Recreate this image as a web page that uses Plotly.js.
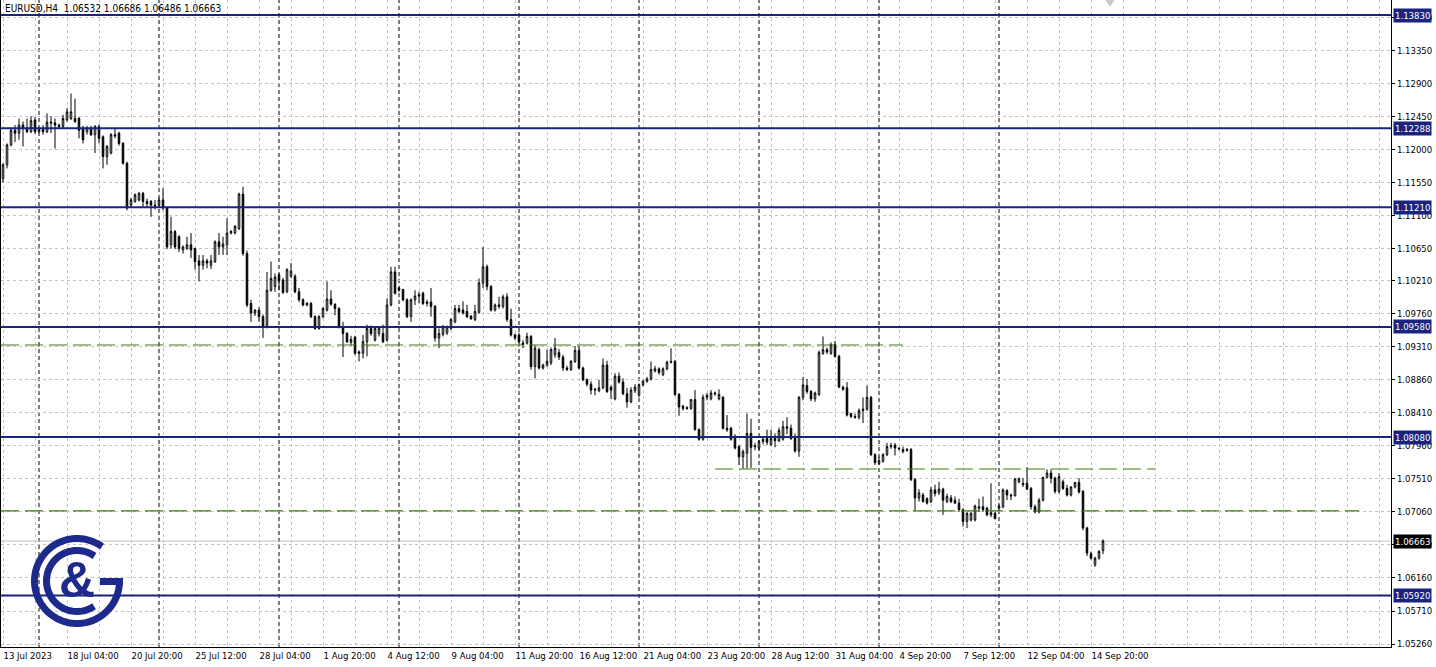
<!DOCTYPE html>
<html><head><meta charset="utf-8">
<script src="https://cdn.plot.ly/plotly-3.0.1.min.js"></script>
<style>html,body{margin:0;padding:0;background:#fff;}#chart{width:1436px;height:667px;}</style>
</head><body><div id="chart"></div>
<script>
const symbol = "EURUSD,H4";

const openPrices = [
1.1160,1.1179,1.1206,1.1226,1.1222,1.1233,1.1229,1.1224,1.1240,1.1224,
1.1227,1.1224,1.1237,1.1236,1.1233,1.1231,1.1240,1.1242,1.1242,1.1242,
1.1229,1.1224,1.1229,1.1220,1.1231,1.1217,1.1190,1.1195,1.1220,1.1222,
1.1208,1.1181,1.1124,1.1129,1.1131,1.1140,1.1129,1.1129,1.1124,1.1124,
1.1131,1.1120,1.1070,1.1088,1.1081,1.1063,1.1065,1.1070,1.1065,1.1048,
1.1042,1.1048,1.1042,1.1047,1.1074,1.1067,1.1070,1.1086,1.1086,1.1092,
1.1139,1.1058,1.0990,1.0977,1.0981,1.0972,1.0958,1.1008,1.1013,1.1029,
1.1022,1.1006,1.1027,1.1027,1.1006,1.0995,1.0988,1.0990,1.0972,1.0956,
1.0972,1.0981,1.0996,1.0989,1.0983,1.0958,1.0949,1.0937,1.0944,1.0924,
1.0922,1.0938,1.0956,1.0940,1.0949,1.0949,1.0940,1.0988,1.1033,1.1011,
1.1009,1.0995,1.0972,1.0995,1.1000,1.1004,1.0990,1.0992,1.0986,1.0943,
1.0948,1.0950,1.0956,1.0965,1.0983,1.0981,1.0979,1.0973,1.0968,1.0978,
1.1018,1.1040,1.1013,1.0981,1.0986,1.0986,1.0999,1.0968,1.0947,1.0947,
1.0936,1.0936,1.0945,1.0904,1.0927,1.0902,1.0906,1.0909,1.0920,1.0923,
1.0917,1.0902,1.0900,1.0911,1.0926,1.0902,1.0886,1.0880,1.0872,1.0871,
1.0875,1.0906,1.0876,1.0860,1.0891,1.0883,1.0867,1.0856,1.0871,1.0865,
1.0879,1.0884,1.0887,1.0898,1.0901,1.0893,1.0901,1.0910,1.0911,1.0866,
1.0850,1.0848,1.0847,1.0859,1.0818,1.0805,1.0862,1.0860,1.0868,1.0860,
1.0862,1.0820,1.0820,1.0808,1.0795,1.0781,1.0786,1.0813,1.0796,1.0793,
1.0802,1.0806,1.0798,1.0806,1.0803,1.0805,1.0822,1.0820,1.0806,1.0789,
1.0862,1.0878,1.0870,1.0860,1.0866,1.0922,1.0927,1.0922,1.0934,1.0918,
1.0876,1.0875,1.0840,1.0836,1.0835,1.0844,1.0846,1.0862,1.0784,1.0772,
1.0775,1.0784,1.0795,1.0797,1.0793,1.0788,1.0791,1.0791,1.0750,1.0725,
1.0729,1.0724,1.0720,1.0736,1.0732,1.0737,1.0720,1.0725,1.0722,1.0718,
1.0709,1.0693,1.0695,1.0695,1.0711,1.0713,1.0711,1.0702,1.0704,1.0711,
1.0713,1.0735,1.0729,1.0728,1.0747,1.0743,1.0745,1.0738,1.0713,1.0706,
1.0722,1.0753,1.0759,1.0752,1.0734,1.0747,1.0738,1.0729,1.0740,1.0746,
1.0734,1.0684,1.0649,1.0634,1.0643,1.06532];

const highPrices = [
1.1181,1.1208,1.1229,1.1233,1.1242,1.1238,1.1242,1.1245,1.1244,1.1230,
1.1233,1.1249,1.1245,1.1242,1.1235,1.1247,1.1256,1.1276,1.1269,1.1244,
1.1232,1.1232,1.1232,1.1233,1.1234,1.1219,1.1206,1.1222,1.1229,1.1224,
1.1210,1.1183,1.1134,1.1140,1.1142,1.1142,1.1133,1.1131,1.1131,1.1134,
1.1147,1.1122,1.1108,1.1090,1.1083,1.1069,1.1081,1.1086,1.1066,1.1056,
1.1056,1.1051,1.1056,1.1076,1.1086,1.1081,1.1106,1.1090,1.1097,1.1141,
1.1149,1.1062,1.0995,1.0982,1.0985,1.0975,1.1033,1.1047,1.1031,1.1031,
1.1025,1.1038,1.1045,1.1030,1.1011,1.0997,1.0992,1.0992,1.0974,1.0974,
1.0985,1.1020,1.1008,1.0990,1.0985,1.0965,1.0951,1.0946,1.0946,1.0926,
1.0947,1.0961,1.0960,1.0958,1.0958,1.0961,1.0997,1.1040,1.1040,1.1013,
1.1010,1.0997,1.0997,1.1008,1.1006,1.1006,1.0995,1.1011,1.0988,1.0956,
1.0961,1.0960,1.0970,1.0988,1.0988,1.0993,1.0988,1.0974,1.0988,1.1024,
1.1067,1.1043,1.1015,1.0990,1.0999,1.1002,1.1004,1.0983,1.0949,1.0950,
1.0940,1.0950,1.0947,1.0933,1.0930,1.0908,1.0927,1.0930,1.0943,1.0928,
1.0920,1.0905,1.0913,1.0932,1.0932,1.0904,1.0888,1.0884,1.0875,1.0886,
1.0915,1.0912,1.0878,1.0895,1.0896,1.0888,1.0875,1.0876,1.0880,1.0881,
1.0886,1.0890,1.0911,1.0905,1.0903,1.0903,1.0912,1.0929,1.0913,1.0868,
1.0852,1.0850,1.0860,1.0872,1.0820,1.0866,1.0868,1.0872,1.0870,1.0873,
1.0864,1.0838,1.0822,1.0812,1.0797,1.0791,1.0840,1.0833,1.0800,1.0804,
1.0807,1.0818,1.0818,1.0813,1.0821,1.0830,1.0835,1.0825,1.0813,1.0864,
1.0890,1.0887,1.0872,1.0870,1.0926,1.0945,1.0930,1.0937,1.0939,1.0920,
1.0878,1.0883,1.0841,1.0840,1.0847,1.0862,1.0878,1.0864,1.0786,1.0781,
1.0786,1.0800,1.0800,1.0800,1.0794,1.0795,1.0793,1.0793,1.0752,1.0737,
1.0732,1.0726,1.0740,1.0743,1.0747,1.0739,1.0731,1.0729,1.0727,1.0724,
1.0711,1.0706,1.0706,1.0716,1.0724,1.0727,1.0713,1.0745,1.0706,1.0716,
1.0738,1.0737,1.0731,1.0752,1.0753,1.0752,1.0767,1.0740,1.0716,1.0725,
1.0754,1.0764,1.0764,1.0754,1.0759,1.0750,1.0743,1.0741,1.0747,1.0752,
1.0736,1.0686,1.0652,1.0645,1.0654,1.06686];

const lowPrices = [
1.1155,1.1174,1.1204,1.1210,1.1213,1.1204,1.1222,1.1222,1.1221,1.1222,
1.1220,1.1222,1.1222,1.1201,1.1229,1.1229,1.1238,1.1240,1.1236,1.1215,
1.1208,1.1220,1.1218,1.1195,1.1208,1.1174,1.1179,1.1193,1.1215,1.1205,
1.1179,1.1117,1.1121,1.1127,1.1129,1.1122,1.1120,1.1108,1.1118,1.1120,
1.1117,1.1064,1.1065,1.1064,1.1060,1.1058,1.1063,1.1052,1.1036,1.1020,
1.1036,1.1038,1.1037,1.1045,1.1056,1.1056,1.1056,1.1084,1.1084,1.1090,
1.1055,1.0985,1.0965,1.0973,1.0965,1.0943,1.0956,1.1006,1.1006,1.1008,
1.1003,1.1004,1.1025,1.1004,1.0992,1.0986,1.0986,1.0970,1.0954,1.0954,
1.0970,1.0979,1.0987,1.0974,1.0956,1.0917,1.0936,1.0933,1.0920,1.0911,
1.0915,1.0918,1.0946,1.0938,1.0945,1.0936,1.0938,1.0986,1.1002,1.1006,
1.0993,1.0970,1.0965,1.0988,1.0990,1.0988,1.0986,1.0972,1.0938,1.0929,
1.0945,1.0947,1.0954,1.0963,1.0977,1.0975,1.0970,1.0968,1.0966,1.0976,
1.1011,1.1008,1.0979,1.0979,1.0983,1.0983,1.0965,1.0945,1.0940,1.0936,
1.0929,1.0934,1.0900,1.0888,1.0900,1.0900,1.0904,1.0906,1.0916,1.0913,
1.0898,1.0898,1.0898,1.0909,1.0900,1.0884,1.0877,1.0866,1.0865,1.0869,
1.0873,1.0868,1.0860,1.0858,1.0881,1.0865,1.0848,1.0854,1.0868,1.0862,
1.0877,1.0882,1.0885,1.0896,1.0893,1.0891,1.0899,1.0908,1.0864,1.0837,
1.0844,1.0845,1.0845,1.0817,1.0803,1.0803,1.0858,1.0858,1.0864,1.0858,
1.0818,1.0815,1.0803,1.0791,1.0770,1.0765,1.0765,1.0766,1.0790,1.0790,
1.0798,1.0797,1.0796,1.0794,1.0801,1.0803,1.0812,1.0804,1.0787,1.0781,
1.0858,1.0867,1.0857,1.0856,1.0864,1.0920,1.0921,1.0920,1.0916,1.0875,
1.0871,1.0836,1.0834,1.0833,1.0832,1.0827,1.0844,1.0782,1.0770,1.0770,
1.0773,1.0782,1.0792,1.0783,1.0790,1.0786,1.0788,1.0748,1.0708,1.0720,
1.0719,1.0716,1.0718,1.0727,1.0729,1.0702,1.0718,1.0718,1.0717,1.0706,
1.0686,1.0684,1.0693,1.0693,1.0706,1.0706,1.0700,1.0699,1.0696,1.0708,
1.0711,1.0722,1.0722,1.0727,1.0745,1.0740,1.0736,1.0709,1.0704,1.0704,
1.0720,1.0752,1.0745,1.0731,1.0731,1.0736,1.0727,1.0727,1.0738,1.0731,
1.0681,1.0646,1.0641,1.0631,1.0641,1.06486];

const closePrices = [
1.1179,1.1206,1.1226,1.1222,1.1233,1.1229,1.1224,1.1239,1.1224,1.1227,
1.1224,1.1237,1.1236,1.1233,1.1231,1.1242,1.1251,1.1251,1.1238,1.1226,
1.1213,1.1229,1.1220,1.1231,1.1215,1.1190,1.1204,1.1220,1.1218,1.1208,
1.1181,1.1120,1.1131,1.1138,1.1140,1.1129,1.1126,1.1124,1.1123,1.1131,
1.1120,1.1067,1.1088,1.1067,1.1065,1.1067,1.1070,1.1063,1.1047,1.1042,
1.1048,1.1045,1.1048,1.1074,1.1067,1.1071,1.1086,1.1088,1.1095,1.1139,
1.1058,1.0988,1.0977,1.0981,1.0972,1.0958,1.1008,1.1024,1.1026,1.1021,
1.1005,1.1036,1.1034,1.1006,1.0995,1.0988,1.0990,1.0972,1.0956,1.0972,
1.0983,1.0996,1.0989,1.0983,1.0958,1.0949,1.0938,1.0941,1.0922,1.0922,
1.0938,1.0956,1.0949,1.0956,1.0956,1.0938,1.0988,1.1033,1.1004,1.1008,
1.0995,1.0972,1.0995,1.1000,1.1002,1.0990,1.0992,1.0986,1.0943,1.0949,
1.0958,1.0958,1.0968,1.0983,1.0979,1.0977,1.0972,1.0969,1.0979,1.1018,
1.1040,1.1013,1.0981,1.0988,1.0988,1.0999,1.0968,1.0947,1.0943,1.0938,
1.0934,1.0945,1.0904,1.0929,1.0902,1.0906,1.0911,1.0927,1.0929,1.0917,
1.0902,1.0900,1.0911,1.0926,1.0902,1.0886,1.0880,1.0872,1.0873,1.0875,
1.0906,1.0870,1.0872,1.0891,1.0883,1.0867,1.0856,1.0872,1.0876,1.0879,
1.0884,1.0887,1.0900,1.0901,1.0896,1.0901,1.0910,1.0911,1.0866,1.0849,
1.0847,1.0847,1.0859,1.0818,1.0805,1.0862,1.0865,1.0868,1.0867,1.0866,
1.0820,1.0818,1.0805,1.0793,1.0781,1.0788,1.0813,1.0794,1.0795,1.0802,
1.0805,1.0801,1.0806,1.0803,1.0817,1.0822,1.0820,1.0806,1.0789,1.0862,
1.0879,1.0870,1.0860,1.0868,1.0923,1.0927,1.0924,1.0934,1.0918,1.0876,
1.0873,1.0838,1.0836,1.0835,1.0844,1.0846,1.0862,1.0784,1.0773,1.0776,
1.0784,1.0795,1.0796,1.0793,1.0792,1.0791,1.0790,1.0750,1.0725,1.0732,
1.0720,1.0718,1.0736,1.0731,1.0737,1.0722,1.0727,1.0720,1.0718,1.0709,
1.0693,1.0704,1.0704,1.0714,1.0713,1.0709,1.0702,1.0705,1.0697,1.0714,
1.0736,1.0729,1.0728,1.0751,1.0751,1.0745,1.0737,1.0713,1.0706,1.0722,
1.0753,1.0759,1.0752,1.0734,1.0754,1.0738,1.0729,1.0740,1.0746,1.0733,
1.0684,1.0650,1.0643,1.0643,1.0652,1.06663];

// time-axis labels (every 16th H4 bar, starting at bar 0)
const timeLabels = ["13 Jul 2023","18 Jul 04:00","20 Jul 20:00","25 Jul 12:00","28 Jul 04:00",
  "1 Aug 20:00","4 Aug 12:00","9 Aug 04:00","11 Aug 20:00","16 Aug 12:00","21 Aug 04:00",
  "23 Aug 20:00","28 Aug 12:00","31 Aug 04:00","4 Sep 20:00","7 Sep 12:00","12 Sep 04:00","14 Sep 20:00"];
const labelEvery = 16;
// bars that open a new week (Monday 00:00)
const weekStartBars = [9,39,69,99,129,159,189,219,249];
// price scale labels
const priceTicks = [1.0526,1.0571,1.0616,1.0661,1.0706,1.0751,1.0796,1.0841,1.0886,1.0931,
  1.0976,1.1021,1.1065,1.1110,1.1155,1.1200,1.1245,1.1290,1.1335,1.1380];
// support / resistance levels (navy) and dashed levels (green)
const levels = [1.13830,1.12288,1.11210,1.09580,1.08080,1.05920];
const dashedLevels = [1.09334,1.07645,1.07073];

// ---------- build ----------
const N = closePrices.length;
const barIdx = Array.from({length:N},(_,i)=>i);
const NAVY = "#1a237e", GREEN = "#3a7a12", GRID = "#c4c4c4";
const FONT = "'DejaVu Sans Condensed','DejaVu Sans',sans-serif";
const PW = 1390, PH = 647, PL = 1, PT = 0;
const XMIN = -0.5, XMAX = XMIN + PW/4;

const gridVals = [], gridText = [];
for (let v = 0; v <= XMAX; v += labelEvery/2) {
  gridVals.push(v);
  const k = v / labelEvery;
  gridText.push(Number.isInteger(k) && k < timeLabels.length ? timeLabels[k] : "");
}

const trace = {
  type: "candlestick", x: barIdx,
  open: openPrices, high: highPrices, low: lowPrices, close: closePrices,
  increasing: {line: {color: "#000", width: 1}, fillcolor: "#ffffff"},
  decreasing: {line: {color: "#000", width: 1}, fillcolor: "#000000"},
  whiskerwidth: 0, hoverinfo: "skip", showlegend: false
};

const shapes = [];
weekStartBars.forEach(b => shapes.push({type:"line", xref:"x", yref:"paper", x0:b, x1:b, y0:0, y1:1,
  line:{color:"#000", width:1, dash:"4px,3px"}, layer:"between"}));
const lastClose = closePrices[N-1];
shapes.push({type:"line", xref:"paper", yref:"y", x0:0, x1:1, y0:lastClose, y1:lastClose,
  line:{color:"#c0c0c0", width:1}, layer:"between"});
const dashedSpans = [[XMIN, 225], [178, 288], [XMIN, 339]];
dashedLevels.forEach((lv, k) => shapes.push({type:"line", xref:"x", yref:"y",
  x0:dashedSpans[k][0], x1:dashedSpans[k][1], y0:lv, y1:lv,
  line:{color:GREEN, width:1.2, dash:"18px,6px"}, layer:"above"}));
levels.forEach(lv => shapes.push({type:"line", xref:"paper", yref:"y", x0:0, x1:1, y0:lv, y1:lv,
  line:{color:NAVY, width:2}, layer:"above"}));

// logo (C&G) drawn with path shapes in paper coordinates
function pp(px, py){ return ((px-PL)/PW).toFixed(5) + "," + (1-(py-PT)/PH).toFixed(5); }
function arcPath(cx, cy, r, a0, a1, steps){
  let d = "";
  for (let k = 0; k <= steps; k++) {
    const a = (a0 + (a1-a0)*k/steps) * Math.PI/180;
    d += (k ? " L" : "M") + pp(cx + r*Math.cos(a), cy + r*Math.sin(a));
  }
  return d;
}
const LOGO = "#1d2a8c";
shapes.push({type:"path", xref:"paper", yref:"paper", path: arcPath(77,581,42.5,-54,-360,80),
  line:{color:LOGO, width:7}, layer:"above"});
shapes.push({type:"path", xref:"paper", yref:"paper", path: "M"+pp(123,581.5)+" L"+pp(100,581.5),
  line:{color:LOGO, width:7}, layer:"above"});
shapes.push({type:"path", xref:"paper", yref:"paper", path: arcPath(77,581,30.5,-55,-304,70),
  line:{color:LOGO, width:7}, layer:"above"});
// chart-shift marker
shapes.push({type:"path", xref:"paper", yref:"paper",
  path: "M"+pp(1106,0)+" L"+pp(1114,0)+" L"+pp(1110,6)+" Z",
  fillcolor:"#c8c8c8", line:{color:"#c8c8c8", width:1}, layer:"above"});

const annotations = [];
const f5 = v => v.toFixed(5);
annotations.push({xref:"paper", yref:"paper", x:0, y:1, xanchor:"left", yanchor:"top", xshift:2, yshift:-1,
  text: symbol + "\u00a0\u00a0" + [openPrices[N-1],highPrices[N-1],lowPrices[N-1],closePrices[N-1]].map(f5).join(" "),
  showarrow:false, font:{family:FONT, size:10, color:"#000"}});
levels.forEach(lv => annotations.push({xref:"paper", yref:"y", x:1, y:lv, xanchor:"left", yanchor:"middle",
  xshift:2, text:f5(lv), showarrow:false, bgcolor:NAVY, borderpad:1,
  font:{family:FONT, size:9.5, color:"#fff"}}));
annotations.push({xref:"paper", yref:"y", x:1, y:lastClose, xanchor:"left", yanchor:"middle",
  xshift:2, text:f5(lastClose), showarrow:false, bgcolor:"#000", borderpad:1,
  font:{family:FONT, size:9.5, color:"#fff"}});
annotations.push({xref:"paper", yref:"paper", x:(77-PL)/PW, y:1-(580-PT)/PH, xanchor:"center", yanchor:"middle",
  text:"&amp;", showarrow:false, font:{family:"'Liberation Sans',sans-serif", size:50, color:LOGO, weight:"bold"}});

const YTOP = 1.13830 + 15/7340, YBOT = YTOP - PH/7340;

const layout = {
  width:1436, height:667,
  margin:{l:PL, r:1436-PL-PW, t:PT, b:667-PT-PH, pad:0},
  paper_bgcolor:"#fff", plot_bgcolor:"#fff",
  showlegend:false, boxgap:0.45,
  font:{family:FONT, size:9.5, color:"#000"},
  xaxis:{range:[XMIN, XMAX], type:"linear", rangeslider:{visible:false},
    tickmode:"array", tickvals:gridVals, ticktext:gridText, ticklabelposition:"outside right",
    tickangle:0, automargin:false,
    ticks:"", showgrid:true, gridcolor:GRID, griddash:"3px,3px", gridwidth:1,
    zeroline:false, showline:true, linecolor:"#000", linewidth:1, mirror:false,
    tickfont:{family:FONT, size:9.5, color:"#000"}, fixedrange:true},
  yaxis:{range:[YBOT, YTOP], side:"right", tickmode:"array", tickvals:priceTicks,
    ticktext:priceTicks.map(f5), ticks:"outside", ticklen:3, tickcolor:"#000", automargin:false,
    showgrid:true, gridcolor:GRID, griddash:"3px,3px", gridwidth:1,
    zeroline:false, showline:true, linecolor:"#000", linewidth:1, mirror:true,
    tickfont:{family:FONT, size:9.5, color:"#000"}, fixedrange:true},
  shapes, annotations
};

Plotly.newPlot("chart", [trace], layout, {displayModeBar:false, staticPlot:true});
</script>
</body></html>
